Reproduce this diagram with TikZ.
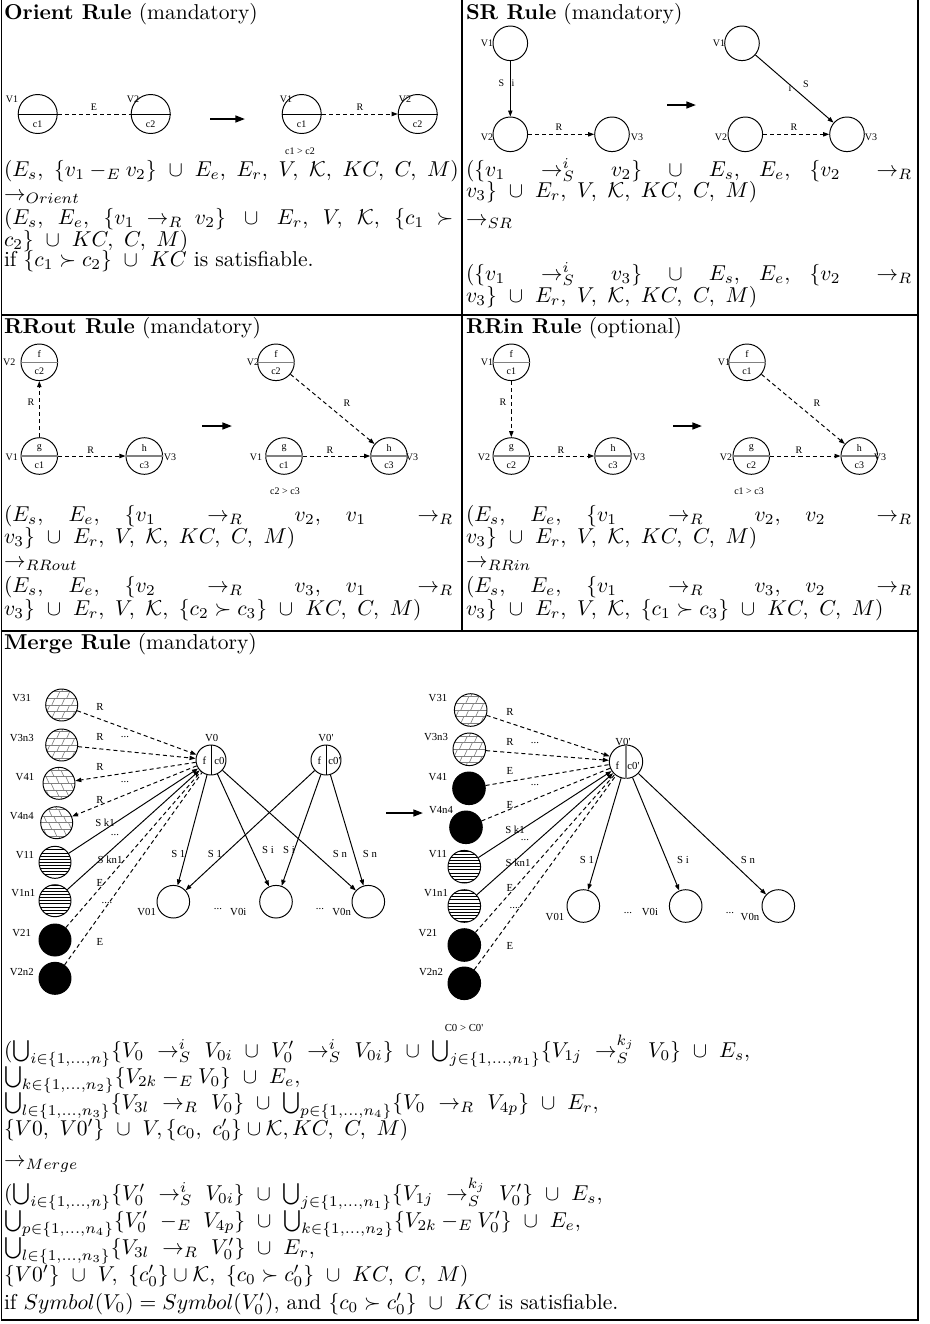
\documentclass[tikz,border=0pt]{standalone}
\usepackage{fontspec}
\usetikzlibrary{arrows.meta}
\newfontfamily\dfont{Liberation Serif}
\tikzset{
 tbl/.style={line width=0.8pt},
 vx/.style={circle,draw,line width=0.45pt,inner sep=0pt,minimum size=#1*0.46512pt},
 dl/.style={font=\dfont\fontsize{4.65pt}{5.4pt}\selectfont,inner sep=0pt},
 ml/.style={font=\dfont\fontsize{5pt}{5.8pt}\selectfont,inner sep=0pt},
 txt/.style={anchor=base west,inner sep=0pt,outer sep=0pt},
 tip/.style={-{Triangle[length=2.8pt,width=2pt]}},
 big/.style={line width=0.85pt,-{Triangle[length=4.5pt,width=3.2pt]}},
 dsh/.style={dash pattern=on 1.9pt off 1.4pt},
 split/.style={line width=0.7pt,gray},
 stripes/.style={path picture={\foreach \k in {-5,...,5}{\draw[line width=0.35pt] ([yshift=\k*1.45pt]path picture bounding box.west) -- ([yshift=\k*1.45pt]path picture bounding box.east);}}},
 brickR/.style={path picture={\foreach \k in {-2,...,2}{\draw[gray,line width=0.3pt] ([yshift=\k*3.1pt]path picture bounding box.west) -- ([yshift=\k*3.1pt]path picture bounding box.east);}
   \foreach \k in {-3,...,2}{\foreach \j in {-3,...,3}{\draw[gray,line width=0.3pt] ([xshift=\j*4.6pt+(\k)*2.3pt,yshift=\k*3.1pt]path picture bounding box.center) -- ++(1.4pt,3.1pt);}}}},
 brickL/.style={path picture={\foreach \k in {-2,...,2}{\draw[gray,line width=0.3pt] ([yshift=\k*3.1pt]path picture bounding box.west) -- ([yshift=\k*3.1pt]path picture bounding box.east);}
   \foreach \k in {-3,...,2}{\foreach \j in {-3,...,3}{\draw[gray,line width=0.3pt] ([xshift=\j*4.6pt+(\k)*2.3pt,yshift=\k*3.1pt]path picture bounding box.center) -- ++(-1.4pt,3.1pt);}}}},
}
\begin{document}
\begin{tikzpicture}[x=0.46512pt,y=-0.46512pt,line width=0.45pt]
\useasboundingbox (0,0) rectangle (930,1324);
% ---------------- table frame
\draw[tbl] (1.5,0) -- (1.5,1320) -- (918,1320) -- (918,0);
\draw[tbl] (462,0) -- (462,631);
\draw[tbl] (1.5,315) -- (918,315);
\draw[tbl] (1.5,631) -- (918,631);
% ---------------- titles
\node[txt] (h1) at (4,19) {\textbf{Orient Rule} (mandatory)};
\node[txt] (h2) at (466,19) {\textbf{SR Rule} (mandatory)};
\node[txt] (h3) at (4,333) {\textbf{RRout Rule} (mandatory)};
\node[txt] (h4) at (466,333) {\textbf{RRin Rule} (optional)};
\node[txt] (h5) at (4,649) {\textbf{Merge Rule} (mandatory)};
% ---------------- Orient diagram
\node[vx=39] (o1) at (37.7,114) {};
\node[vx=39] (o2) at (150.7,114) {};
\node[vx=39] (o3) at (301.7,114) {};
\node[vx=39] (o4) at (417.7,114) {};
\foreach \n in {o1,o2,o3,o4}{\draw (\n.west) -- (\n.east);}
\node[dl] (oc1) at (37.7,124) {c1};
\node[dl] (oc2) at (150.7,124) {c2};
\node[dl] (oc3) at (301.7,124) {c1};
\node[dl] (oc4) at (417.7,124) {c2};
\node[dl] (ov1) at (12,99) {V1};
\node[dl] (ov2) at (133,99) {V2};
\node[dl] (ov3) at (286,99) {V1};
\node[dl] (ov4) at (405,99) {V2};
\draw[dsh] (o1) -- (o2);
\draw[dsh,tip] (o3) -- (o4);
\node[dl] (oe) at (94,107) {E};
\node[dl] (or) at (360,107) {R};
\coordinate (oa1) at (210,119); \coordinate (oa2) at (245,119);
\draw[big] (oa1) -- (oa2);
\node[dl] (ocmp) at (300,151) {c1 > c2};
% ---------------- SR diagram
\node[vx=34.6] (s1) at (510.3,43.3) {};
\node[vx=34.6] (s2) at (510.3,134.3) {};
\node[vx=34.6] (s3) at (612,134.3) {};
\node[vx=34.6] (s4) at (742,43.3) {};
\node[vx=34.6] (s5) at (745.3,134.3) {};
\node[vx=34.6] (s6) at (847,134.3) {};
\node[dl] (sv1) at (487,43) {V1};
\node[dl] (sv2) at (487,137) {V2};
\node[dl] (sv3) at (637,137) {V3};
\node[dl] (sv4) at (719,43) {V1};
\node[dl] (sv5) at (721,137) {V2};
\node[dl] (sv6) at (871,137) {V3};
\draw[tip] (s1) -- (s2);
\node[dl] (ss1) at (501.3,83) {S};
\node[dl] (ss2) at (513,83) {i};
\draw[dsh,tip] (s2) -- (s3);
\node[dl] (sr1) at (559,127) {R};
\coordinate (sa1) at (667,105); \coordinate (sa2) at (696,105);
\draw[big] (sa1) -- (sa2);
\draw[tip] (s4) -- (s6);
\node[dl] (ss3) at (790,88) {i};
\node[dl] (ss4) at (806,84) {S};
\draw[dsh,tip] (s5) -- (s6);
\node[dl] (sr2) at (794,127) {R};
% ---------------- RRout diagram
\node[vx=36.6] (r1) at (39.3,362.3) {};
\node[vx=36.6] (r2) at (39.3,456) {};
\node[vx=36.6] (r3) at (144.3,456) {};
\node[vx=36.6] (r4) at (276,362.3) {};
\node[vx=36.6] (r5) at (284,456) {};
\node[vx=36.6] (r6) at (389,456) {};
\foreach \n in {r1,r2,r3,r4,r5,r6}{\draw[split] (\n.west) -- (\n.east);}
\node[dl] (ri1) at (39.3,354) {f};   \node[dl] (ri2) at (39.3,371) {c2};
\node[dl] (ri3) at (39.3,448) {g};   \node[dl] (ri4) at (39.3,465) {c1};
\node[dl] (ri5) at (144.3,448) {h};  \node[dl] (ri6) at (144.3,465) {c3};
\node[dl] (ri7) at (276,354) {f};    \node[dl] (ri8) at (276,371) {c2};
\node[dl] (ri9) at (284,448) {g};    \node[dl] (ri10) at (284,465) {c1};
\node[dl] (ri11) at (389,448) {h};   \node[dl] (ri12) at (389,465) {c3};
\node[dl] (rv1) at (9.3,362) {V2};
\node[dl] (rv2) at (11.7,457) {V1};
\node[dl] (rv3) at (170,457) {V3};
\node[dl] (rv4) at (253,362) {V2};
\node[dl] (rv5) at (256,457) {V1};
\node[dl] (rv6) at (412,457) {V3};
\draw[dsh,tip] (r2) -- (r1);
\node[dl] (rl1) at (31,402) {R};
\draw[dsh,tip] (r2) -- (r3);
\node[dl] (rl2) at (90.7,450) {R};
\coordinate (ra1) at (202,426); \coordinate (ra2) at (232,426);
\draw[big] (ra1) -- (ra2);
\draw[dsh,tip] (r4) -- (r6);
\node[dl] (rl3) at (347,403) {R};
\draw[dsh,tip] (r5) -- (r6);
\node[dl] (rl4) at (330,450) {R};
\node[dl] (rcmp) at (285,491) {c2 > c3};
% ---------------- RRin diagram
\node[vx=36.6] (q1) at (511.3,362.3) {};
\node[vx=36.6] (q2) at (511.3,456) {};
\node[vx=36.6] (q3) at (613,456) {};
\node[vx=36.6] (q4) at (747,362.3) {};
\node[vx=36.6] (q5) at (751.3,456) {};
\node[vx=36.6] (q6) at (859.3,456) {};
\foreach \n in {q1,q2,q3,q4,q5,q6}{\draw[split] (\n.west) -- (\n.east);}
\node[dl] (qi1) at (511.3,354) {f};   \node[dl] (qi2) at (511.3,371) {c1};
\node[dl] (qi3) at (511.3,448) {g};   \node[dl] (qi4) at (511.3,465) {c2};
\node[dl] (qi5) at (613,448) {h};     \node[dl] (qi6) at (613,465) {c3};
\node[dl] (qi7) at (747,354) {f};     \node[dl] (qi8) at (747,371) {c1};
\node[dl] (qi9) at (751.3,448) {g};   \node[dl] (qi10) at (751.3,465) {c2};
\node[dl] (qi11) at (859.3,448) {h};  \node[dl] (qi12) at (859.3,465) {c3};
\node[dl] (qv1) at (487,362) {V1};
\node[dl] (qv2) at (484,457) {V2};
\node[dl] (qv3) at (639,457) {V3};
\node[dl] (qv4) at (724,362) {V1};
\node[dl] (qv5) at (726,457) {V2};
\node[dl] (qv6) at (880,457) {V3};
\draw[dsh,tip] (q1) -- (q2);
\node[dl] (ql1) at (503,402) {R};
\draw[dsh,tip] (q2) -- (q3);
\node[dl] (ql2) at (561,450) {R};
\coordinate (qa1) at (673,426); \coordinate (qa2) at (702,426);
\draw[big] (qa1) -- (qa2);
\draw[dsh,tip] (q4) -- (q6);
\node[dl] (ql3) at (817,403) {R};
\draw[dsh,tip] (q5) -- (q6);
\node[dl] (ql4) at (799,450) {R};
\node[dl] (qcmp) at (749,491) {c1 > c3};
% ---------------- Merge diagram (left)
\node[vx=32,brickR] (a31) at (61.7,705) {};
\node[vx=32,brickR] (a3n) at (61.7,745) {};
\node[vx=32,brickL] (a41) at (59,783.3) {};
\node[vx=32,brickL] (a4n) at (56.7,822.7) {};
\node[vx=32,stripes] (a11) at (55,862.3) {};
\node[vx=32,stripes] (a1n) at (55,900.7) {};
\node[vx=32,fill=black] (a21) at (55,940) {};
\node[vx=32,fill=black] (a2n) at (55,978.3) {};
\node[ml] (al1) at (21.7,698) {V31};
\node[ml] (al2) at (21.7,738) {V3n3};
\node[ml] (al3) at (25,777) {V41};
\node[ml] (al4) at (21.7,816) {V4n4};
\node[ml] (al5) at (25,855) {V11};
\node[ml] (al6) at (23.3,893) {V1n1};
\node[ml] (al7) at (21.7,933) {V21};
\node[ml] (al8) at (21.7,972) {V2n2};
\node[vx=30] (a0) at (211,760) {};
\node[vx=30] (b0) at (326,760) {};
\draw (a0.north) -- (a0.south);
\draw (b0.north) -- (b0.south);
\node[ml] (af) at (204.5,761) {f};
\node[ml] (ac) at (219.5,761) {c0};
\node[ml] (bf) at (319.5,761) {f};
\node[ml] (bc) at (334.5,761) {c0'};
\node[ml] (a0l) at (211.7,738) {V0};
\node[ml] (b0l) at (326,738) {V0'};
\node[vx=32.6] (c1) at (173.3,901.7) {};
\node[vx=32.6] (ci) at (276,901.7) {};
\node[vx=32.6] (cn) at (368.3,901.7) {};
\node[ml] (c1l) at (146.7,912) {V01};
\node[ml] (cd1) at (218,909) {...};
\node[ml] (cil) at (238.3,912) {V0i};
\node[ml] (cd2) at (320,909) {...};
\node[ml] (cnl) at (341.7,912) {V0n};
\draw[dsh,tip] (a31) -- (a0);
\draw[dsh,tip] (a3n) -- (a0);
\draw[dsh,tip] (a0) -- (a41);
\draw[dsh,tip] (a0) -- (a4n);
\draw[tip] (a11) -- (a0);
\draw[tip] (a1n) -- (a0);
\draw[dsh] (a21) -- (a0);
\draw[dsh] (a2n) -- (a0);
\draw[tip] (a0) -- (c1);
\draw[tip] (b0) -- (c1);
\draw[tip] (a0) -- (ci);
\draw[tip] (b0) -- (ci);
\draw[tip] (a0) -- (cn);
\draw[tip] (b0) -- (cn);
\node[ml] (ae1) at (100,707) {R};
\node[ml] (ae2) at (100,737) {R};
\node[ml] (ae2d) at (125,737) {...};
\node[ml] (ae3) at (100,767) {R};
\node[ml] (ae3d) at (125,782) {...};
\node[ml] (ae4) at (100,800) {R};
\node[ml] (ae5) at (105,823) {S k1};
\node[ml] (ae5d) at (115,835) {...};
\node[ml] (ae6) at (110,860) {S kn1};
\node[ml] (ae7) at (100,883) {E};
\node[ml] (ae7d) at (107,903) {....};
\node[ml] (ae8) at (100,942) {E};
\node[ml] (as1) at (178.3,854) {S 1};
\node[ml] (as2) at (215,854) {S 1};
\node[ml] (as3) at (268,850) {S i};
\node[ml] (as4) at (289,850) {S i};
\node[ml] (as5) at (340,854) {S n};
\node[ml] (as6) at (370,854) {S n};
\coordinate (ma1) at (386,813); \coordinate (ma2) at (423,813);
\draw[big] (ma1) -- (ma2);
% ---------------- Merge diagram (right)
\node[vx=32.6,brickR] (d31) at (470.7,710) {};
\node[vx=32.6,brickR] (d3n) at (469.3,749.3) {};
\node[vx=32.6,fill=black] (d41) at (469,788.3) {};
\node[vx=32.6,fill=black] (d4n) at (466,827.3) {};
\node[vx=32.6,stripes] (d11) at (464.3,866.7) {};
\node[vx=32.6,stripes] (d1n) at (464.3,906) {};
\node[vx=32.6,fill=black] (d21) at (464.3,945) {};
\node[vx=32.6,fill=black] (d2n) at (464.3,983.3) {};
\node[ml] (dl1) at (438,698) {V31};
\node[ml] (dl2) at (436,737) {V3n3};
\node[ml] (dl3) at (438,777) {V41};
\node[ml] (dl4) at (441,810) {V4n4};
\node[ml] (dl5) at (438,854) {V11};
\node[ml] (dl6) at (436,893) {V1n1};
\node[ml] (dl7) at (428,933) {V21};
\node[ml] (dl8) at (431,972) {V2n2};
\node[vx=33.4] (e0) at (626,761.7) {};
\draw[split] (e0.north) -- (e0.south);
\node[ml] (ef) at (617.5,766) {f};
\node[ml] (ec) at (633.5,766) {c0'};
\node[ml] (e0l) at (623,742) {V0'};
\node[vx=32.6] (f1) at (583.3,906) {};
\node[vx=32.6] (fi) at (685.7,906) {};
\node[vx=32.6] (fn) at (778.3,906) {};
\node[ml] (f1l) at (555,917) {V01};
\node[ml] (fd1) at (628,913) {...};
\node[ml] (fil) at (650,912) {V0i};
\node[ml] (fd2) at (730,913) {...};
\node[ml] (fnl) at (750,917) {V0n};
\draw[dsh,tip] (d31) -- (e0);
\draw[dsh,tip] (d3n) -- (e0);
\draw[dsh] (d41) -- (e0);
\draw[dsh] (d4n) -- (e0);
\draw[tip] (d11) -- (e0);
\draw[tip] (d1n) -- (e0);
\draw[dsh] (d21) -- (e0);
\draw[dsh] (d2n) -- (e0);
\draw[tip] (e0) -- (f1);
\draw[tip] (e0) -- (fi);
\draw[tip] (e0) -- (fn);
\node[ml] (de1) at (510,712) {R};
\node[ml] (de2) at (510,742) {R};
\node[ml] (de2d) at (535,743) {...};
\node[ml] (de3) at (510,771) {E};
\node[ml] (de3d) at (535,785) {...};
\node[ml] (de4) at (510,805) {E};
\node[ml] (de5) at (515,830) {S k1};
\node[ml] (de5d) at (525,840) {...};
\node[ml] (de6) at (518,863) {S kn1};
\node[ml] (de7) at (510,888) {E};
\node[ml] (de7d) at (515,908) {....};
\node[ml] (de8) at (510,946) {E};
\node[ml] (ds1) at (587,860) {S 1};
\node[ml] (ds2) at (683,860) {S i};
\node[ml] (ds3) at (748,860) {S n};
\node[ml] (mcmp) at (464,1028) {C0 > C0'};
% ---------------- Orient text
\node[txt] (ot1) at (4,176) {$(E_s,\ \{v_1 -_E v_2\}\ \cup\ E_e,\ E_r,\ V,\ \mathcal{K},\ KC,\ C,\ M)$};
\node[txt] (ot2) at (4,200) {$\rightarrow_{Orient}$};
\node[txt] (ot3) at (4,224) {\hbox to 209pt{$(E_s,\ E_e,\ \{v_1 \rightarrow_R v_2\}\ \cup\ E_r,\ V,\ \mathcal{K},\ \{c_1 \succ$}};
\node[txt] (ot4) at (4,246) {$c_2\}\ \cup\ KC,\ C,\ M)$};
\node[txt] (ot5) at (4,266) {if $\{c_1 \succ c_2\}\ \cup\ KC$ is satisfiable.};
% ---------------- SR text
\node[txt] (st1) at (466,176) {\hbox to 207.5pt{$(\{v_1\ \rightarrow^i_S\ v_2\}\ \cup\ E_s,\ E_e,\ \{v_2\ \rightarrow_R$}};
\node[txt] (st2) at (466,197) {$v_3\}\ \cup\ E_r,\ V,\ \mathcal{K},\ KC,\ C,\ M)$};
\node[txt] (st3) at (466,225) {$\rightarrow_{SR}$};
\node[txt] (st4) at (466,280) {\hbox to 207.5pt{$(\{v_1\ \rightarrow^i_S\ v_3\}\ \cup\ E_s,\ E_e,\ \{v_2\ \rightarrow_R$}};
\node[txt] (st5) at (466,302) {$v_3\}\ \cup\ E_r,\ V,\ \mathcal{K},\ KC,\ C,\ M)$};
% ---------------- RRout text
\node[txt] (rt1) at (4,521) {\hbox to 209pt{$(E_s,\ E_e,\ \{v_1\ \rightarrow_R\ v_2,\ v_1\ \rightarrow_R$}};
\node[txt] (rt2) at (4,543) {$v_3\}\ \cup\ E_r,\ V,\ \mathcal{K},\ KC,\ C,\ M)$};
\node[txt] (rt3) at (4,567) {$\rightarrow_{RRout}$};
\node[txt] (rt4) at (4,592) {\hbox to 209pt{$(E_s,\ E_e,\ \{v_2\ \rightarrow_R\ v_3,\ v_1\ \rightarrow_R$}};
\node[txt] (rt5) at (4,615) {$v_3\}\ \cup\ E_r,\ V,\ \mathcal{K},\ \{c_2 \succ c_3\}\ \cup\ KC,\ C,\ M)$};
% ---------------- RRin text
\node[txt] (qt1) at (466,521) {\hbox to 207.5pt{$(E_s,\ E_e,\ \{v_1\ \rightarrow_R\ v_2,\ v_2\ \rightarrow_R$}};
\node[txt] (qt2) at (466,543) {$v_3\}\ \cup\ E_r,\ V,\ \mathcal{K},\ KC,\ C,\ M)$};
\node[txt] (qt3) at (466,567) {$\rightarrow_{RRin}$};
\node[txt] (qt4) at (466,592) {\hbox to 207.5pt{$(E_s,\ E_e,\ \{v_1\ \rightarrow_R\ v_3,\ v_2\ \rightarrow_R$}};
\node[txt] (qt5) at (466,615) {$v_3\}\ \cup\ E_r,\ V,\ \mathcal{K},\ \{c_1 \succ c_3\}\ \cup\ KC,\ C,\ M)$};
% ---------------- Merge text
\node[txt] (mt1) at (4,1057) {$(\bigcup_{i\in\{1,\ldots,n\}}\{V_0\ \rightarrow^i_S\ V_{0i}\ \cup\ V_0'\ \rightarrow^i_S\ V_{0i}\}\ \cup\ \bigcup_{j\in\{1,\ldots,n_1\}}\{V_{1j}\ \rightarrow^{k_j}_S\ V_0\}\ \cup\ E_s,$};
\node[txt] (mt2) at (4,1083) {$\bigcup_{k\in\{1,\ldots,n_2\}}\{V_{2k} -_E V_0\}\ \cup\ E_e,$};
\node[txt] (mt3) at (4,1109) {$\bigcup_{l\in\{1,\ldots,n_3\}}\{V_{3l}\ \rightarrow_R\ V_0\}\ \cup\ \bigcup_{p\in\{1,\ldots,n_4\}}\{V_0\ \rightarrow_R\ V_{4p}\}\ \cup\ E_r,$};
\node[txt] (mt4) at (4,1135) {$\{V0,\ V0'\}\ \cup\ V,\{c_0,\ c_0'\}\cup\mathcal{K}, KC,\ C,\ M)$};
\node[txt] (mt5) at (4,1166) {$\rightarrow_{Merge}$};
\node[txt] (mt6) at (4,1200) {$(\bigcup_{i\in\{1,\ldots,n\}}\{V_0'\ \rightarrow^i_S\ V_{0i}\}\ \cup\ \bigcup_{j\in\{1,\ldots,n_1\}}\{V_{1j}\ \rightarrow^{k_j}_S\ V_0'\}\ \cup\ E_s,$};
\node[txt] (mt7) at (4,1227) {$\bigcup_{p\in\{1,\ldots,n_4\}}\{V_0'\ -_E\ V_{4p}\}\ \cup\ \bigcup_{k\in\{1,\ldots,n_2\}}\{V_{2k} -_E V_0'\}\ \cup\ E_e,$};
\node[txt] (mt8) at (4,1254) {$\bigcup_{l\in\{1,\ldots,n_3\}}\{V_{3l}\ \rightarrow_R\ V_0'\}\ \cup\ E_r,$};
\node[txt] (mt9) at (4,1281) {$\{V0'\}\ \cup\ V,\ \{c_0'\}\cup\mathcal{K},\ \{c_0 \succ c_0'\}\ \cup\ KC,\ C,\ M)$};
\node[txt] (mt10) at (4,1309) {if $Symbol(V_0) = Symbol(V_0')$, and $\{c_0 \succ c_0'\}\ \cup\ KC$ is satisfiable.};
\end{tikzpicture}
\end{document}
